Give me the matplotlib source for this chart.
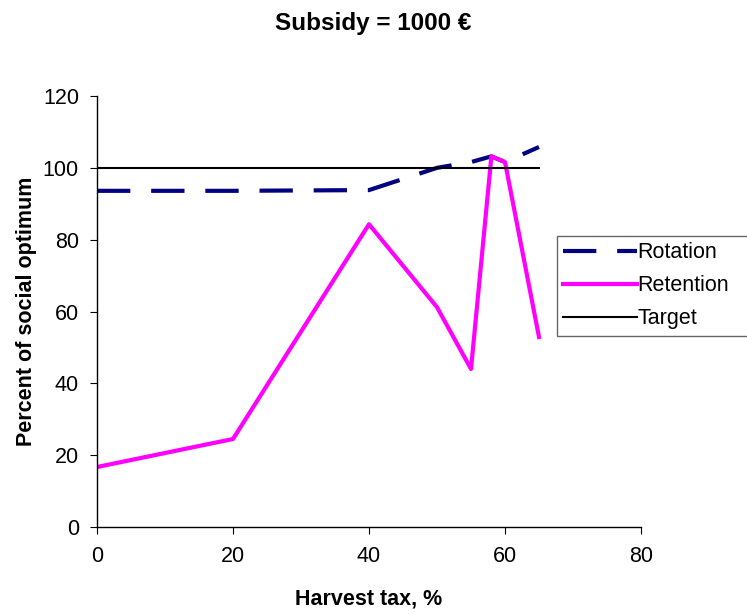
import matplotlib
matplotlib.use('Agg')
import matplotlib.pyplot as plt

plt.rcParams['font.family'] = ['Liberation Sans', 'DejaVu Sans']

tax = [0, 20, 40, 50, 55, 58, 60, 65]
rotation = [93.6, 93.6, 93.8, 100.0, 101.6, 103.2, 101.6, 105.8]
retention = [16.7, 24.5, 84.3, 61.2, 44.0, 103.2, 101.6, 52.9]
target_x = [0, 65]
target_y = [100, 100]

fig = plt.figure(figsize=(7.47, 6.14), dpi=100)
ax = fig.add_axes([97 / 747, 1 - 527 / 614, 544 / 747, 431 / 614])

ax.plot(tax, rotation, color='#000080', lw=3, dashes=(8, 5), label='Rotation')
ax.plot(tax, retention, color='#ff00ff', lw=3, label='Retention')
ax.plot(target_x, target_y, color='black', lw=1.5, label='Target')

ax.set_xlim(0, 80)
ax.set_ylim(0, 120)
ax.set_xticks([0, 20, 40, 60, 80])
ax.set_yticks(range(0, 121, 20))
for s in ['top', 'right']:
    ax.spines[s].set_visible(False)
for s in ['left', 'bottom']:
    ax.spines[s].set_color('black')
    ax.spines[s].set_linewidth(1)
ax.tick_params(labelsize=15.5, length=5, direction='out')
ax.tick_params(axis='x', pad=9)
ax.tick_params(axis='y', pad=8)

ax.set_xlabel('Harvest tax, %', fontsize=15.5, fontweight='bold', labelpad=15)
ax.set_ylabel('Percent of social optimum', fontsize=15.5, fontweight='bold', labelpad=4)
fig.suptitle('Subsidy = 1000 €', fontsize=17.5, fontweight='bold', y=0.98)

# legend box sticks out past the plot area, up to the right edge
leg = ax.legend(loc='upper left',
                bbox_to_anchor=(557 / 747, 1 - 337 / 614, 192 / 747, 101 / 614),
                bbox_transform=fig.transFigure, mode='expand', fontsize=15.5, frameon=True,
                fancybox=False, edgecolor='#404040', handlelength=3.4,
                handletextpad=0.05, borderpad=0.3, labelspacing=0.55, borderaxespad=0)
leg.get_frame().set_linewidth(1)

fig.savefig('out.png', dpi=100)
